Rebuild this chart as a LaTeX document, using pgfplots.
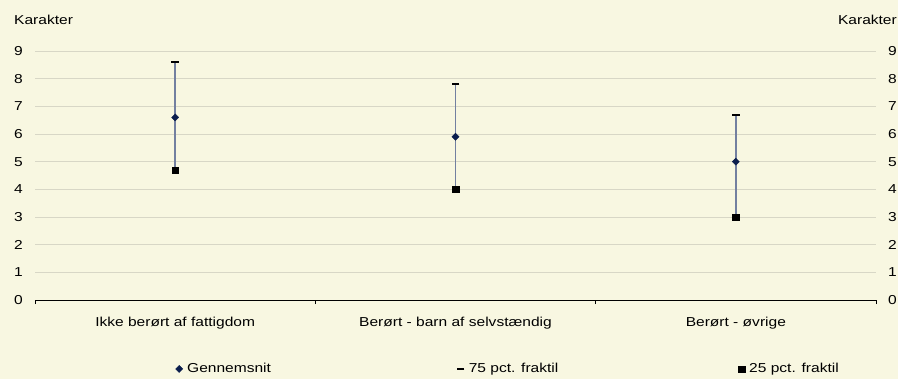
\documentclass[border=0pt]{standalone}
\usepackage{fontspec}
\setmainfont{Liberation Sans}[FakeStretch=1.2]
\usepackage{pgfplots}
\pgfplotsset{compat=1.18}
\definecolor{bg}{HTML}{F8F7E1}
\definecolor{gridc}{HTML}{D8D7C6}
\definecolor{linec}{HTML}{7380A0}
\definecolor{navy}{HTML}{0B1E4D}
\begin{document}
\begin{tikzpicture}[font=\fontsize{13}{15}\selectfont]
\fill[bg] (0,0) rectangle (898bp,379bp);
\useasboundingbox (0,0) rectangle (898bp,379bp);
\node[anchor=west,inner sep=0] at (14bp,359bp) {Karakter};
\node[anchor=east,inner sep=0] at (897bp,359bp) {Karakter};
\begin{axis}[
  at={(35bp,79bp)}, anchor=south west,
  scale only axis, width=841bp, height=249bp,
  xmin=-0.5, xmax=2.5, ymin=0, ymax=9,
  /pgf/number format/assume math mode=true,
  ytick={0,...,9},
  ymajorgrids, grid style={gridc, line width=0.8bp},
  major tick length=0pt,
  separate axis lines,
  axis x line*=bottom,
  x axis line style={black, line width=0.9bp, -},
  y axis line style={draw=none},
  yticklabel style={anchor=east, inner sep=0pt, xshift=-12bp},
  xtick={0,1,2},
  xticklabels={Ikke berørt af fattigdom, Berørt - barn af selvstændig, Berørt - øvrige},
  xticklabel style={anchor=north, inner sep=0pt, yshift=-16.5bp},
  extra x ticks={-0.5,0.5,1.5,2.5},
  extra x tick labels={},
  extra x tick style={major tick length=4bp, tick style={black, line width=0.8bp}, tick align=outside, xmajorgrids=false},
  legend columns=3,
  legend style={draw=none, fill=none, at={(0.167,-0.277)}, anchor=west, inner sep=0pt,
    nodes={inner sep=1.5bp}},
  legend image code/.code={\draw[mark repeat=2,mark phase=2,#1] plot coordinates {(0bp,0bp)(4bp,0bp)(8bp,0bp)};},
]
\addplot[linec, line width=1.8bp, forget plot] coordinates {(0,4.7) (0,8.6)};
\addplot[linec, line width=1.8bp, forget plot] coordinates {(1,4.0) (1,7.8)};
\addplot[linec, line width=1.8bp, forget plot] coordinates {(2,3.0) (2,6.7)};
\addplot[only marks, mark=square*, mark size=2.5bp, navy, mark options={fill=navy, draw=navy, rotate=45}] coordinates {(0,6.6) (1,5.9) (2,5.0)};
\addlegendentry{\makebox[271bp][l]{\hspace{3bp}Gennemsnit}}
\addplot[only marks, mark=-, mark size=3.8bp, black, mark options={line width=2.2bp}] coordinates {(0,8.6) (1,7.8) (2,6.7)};
\addlegendentry{\makebox[271bp][l]{\hspace{3bp}75 pct. fraktil}}
\addplot[only marks, mark=square*, mark size=3.2bp, black, mark options={line width=0.4bp}] coordinates {(0,4.7) (1,4.0) (2,3.0)};
\addlegendentry{\hspace{3bp}25 pct. fraktil}
\end{axis}
\begin{axis}[
  at={(35bp,79bp)}, anchor=south west,
  scale only axis, width=841bp, height=249bp,
  xmin=-0.5, xmax=2.5, ymin=0, ymax=9,
  /pgf/number format/assume math mode=true,
  ytick={0,...,9}, major tick length=0pt,
  axis x line=none,
  y axis line style={draw=none},
  yticklabel pos=right,
  yticklabel style={anchor=west, inner sep=0pt, xshift=12bp},
]
\end{axis}
\end{tikzpicture}
\end{document}
